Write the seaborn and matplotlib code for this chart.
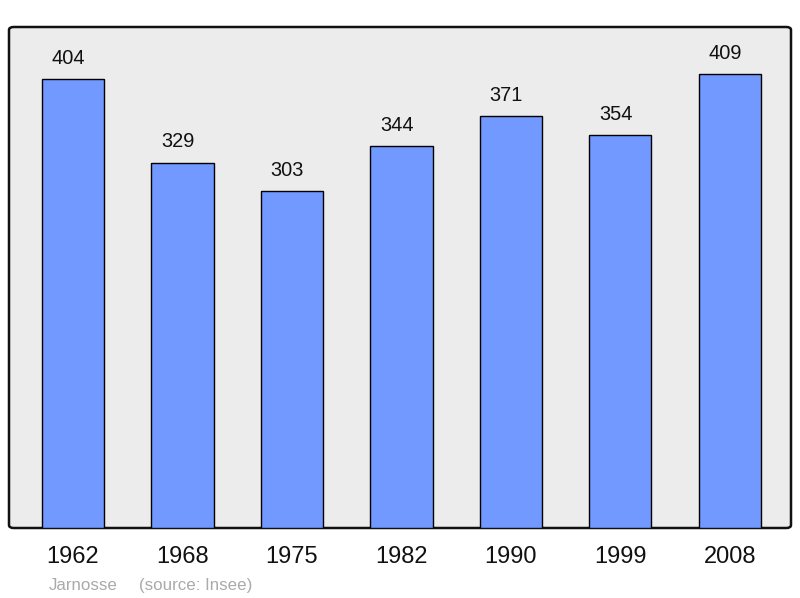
import matplotlib
matplotlib.use("Agg")
import matplotlib.pyplot as plt
import seaborn as sns
import pandas as pd
from matplotlib.patches import FancyBboxPatch

years = ["1962", "1968", "1975", "1982", "1990", "1999", "2008"]
population = [404, 329, 303, 344, 371, 354, 409]

sns.set_theme(style="white")
plt.rcParams['font.family'] = ['Liberation Sans', 'DejaVu Sans']

df = pd.DataFrame({"year": years, "pop": population})

fig = plt.figure(figsize=(8, 5.98), dpi=100)
ax = fig.add_axes([9 / 800, 70 / 598, 782 / 800, 501 / 598])
ax.set_facecolor("none")

# rounded frame with light grey fill
frame = FancyBboxPatch((0, 0), 1, 1, boxstyle="round,pad=0,rounding_size=0.006",
                       transform=ax.transAxes, facecolor="#ececec",
                       edgecolor="#111111", linewidth=1.8, zorder=0, clip_on=False)
ax.add_patch(frame)

sns.barplot(data=df, x="year", y="pop", color="#7199ff", edgecolor="black",
            linewidth=1.0, width=0.57, saturation=1, ax=ax, zorder=2)

for i, v in enumerate(population):
    ax.annotate(str(v), (i, v), xytext=(-3.3, 8), textcoords="offset points",
                ha="center", va="bottom", fontsize=14.4, color="#111111")

ax.set_xlim(-0.585, 6.56)
ax.set_ylim(0, 451)
ax.set_yticks([])
ax.set_xlabel("")
ax.set_ylabel("")
ax.tick_params(axis="x", length=0, labelsize=17, pad=13, colors="#111111")
for s in ax.spines.values():
    s.set_visible(False)

fig.text(49 / 800, 1 - 590 / 598, "Jarnosse", color="#aaaaaa", fontsize=12.2,
         ha="left", va="baseline")
fig.text(139 / 800, 1 - 590 / 598, "(source: Insee)", color="#aaaaaa", fontsize=12.2,
         ha="left", va="baseline")

fig.savefig("out.png", dpi=100)
